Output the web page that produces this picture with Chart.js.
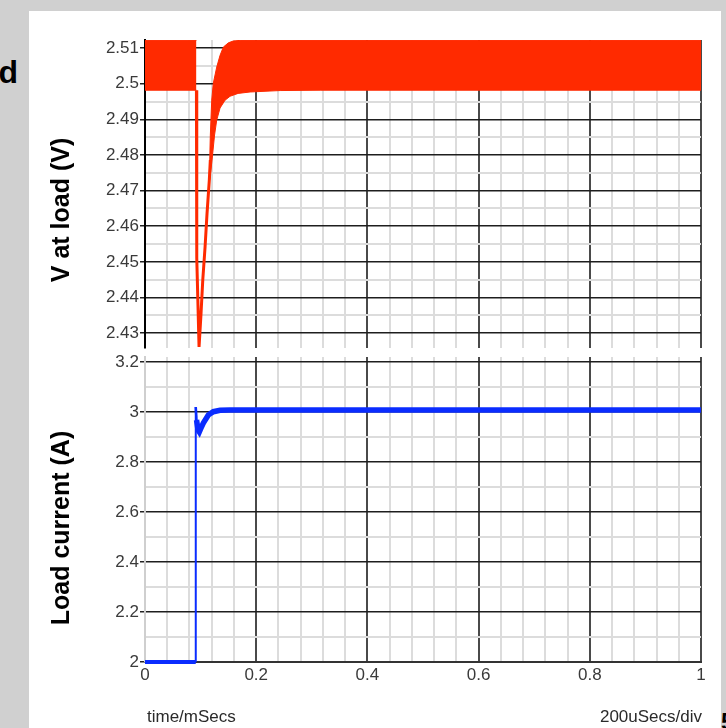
<!DOCTYPE html>
<html>
<head>
<meta charset="utf-8">
<script src="https://cdn.jsdelivr.net/npm/chart.js@4.4.1/dist/chart.umd.min.js"></script>
<style>
  html, body { margin: 0; padding: 0; }
  body {
    width: 726px; height: 728px; position: relative; overflow: hidden;
    background: #d0d0d0;
    font-family: 'Liberation Sans', Arial, sans-serif;
  }
  #panel { position: absolute; left: 29px; top: 11px; width: 692px; height: 717px; background: #fff; }
  canvas { position: absolute; left: 0; }
  #voltChart { top: 0; width: 726px; height: 370px; }
  #ampChart { top: 330px; width: 726px; height: 398px; }
  .axis-title {
    position: absolute; white-space: nowrap; color: #000;
    font-weight: bold; font-size: 25px; line-height: 29px;
    transform: translate(-50%, -50%) rotate(-90deg);
  }
  .foot { position: absolute; top: 707px; font-size: 17px; line-height: 20px; color: #2a2a2a; }
  .side { position: absolute; font-weight: bold; color: #000; white-space: nowrap; }
</style>
</head>
<body>
<div id="panel"></div>
<div class="side" style="right: 708px; top: 54px; font-size: 32px; line-height: 37px;">Load</div>
<div class="side" style="left: 721px; top: 708px; font-size: 24px; line-height: 28px;">5</div>

<canvas id="voltChart" width="726" height="370"></canvas>
<canvas id="ampChart" width="726" height="398"></canvas>

<div class="axis-title" style="left: 60px; top: 210px;">V at load (V)</div>
<div class="axis-title" style="left: 60px; top: 528px;">Load current (A)</div>
<div class="foot" style="left: 147px;">time/mSecs</div>
<div class="foot" style="right: 24px;">200uSecs/div</div>

<script>
// axis labels
const timeTicks = ['0', '0.2', '0.4', '0.6', '0.8', '1'];
const voltTicks = ['2.43', '2.44', '2.45', '2.46', '2.47', '2.48', '2.49', '2.5', '2.51'];
const ampTicks = ['2', '2.2', '2.4', '2.6', '2.8', '3', '3.2'];

// output ripple band before the load step (ms, V)
const preTime = [0, 0.0925];
const preHigh = [2.5122, 2.5122];
const preLow = [2.4982, 2.4982];

// undershoot right after the step
const dipTime = [0.0925, 0.0931, 0.0972, 0.1008, 0.1039, 0.1080, 0.1116, 0.1157, 0.1175];
const dipVolt = [2.4982, 2.4511, 2.4261, 2.4356, 2.4449, 2.4541, 2.4637, 2.4730, 2.4786];

// ripple band while recovering
const postHighTime = [0.1157, 0.1175, 0.1200, 0.1229, 0.1290, 0.1350, 0.1409, 0.1499, 0.1584, 0.1710, 1];
const postHigh = [2.4744, 2.4856, 2.4954, 2.5002, 2.5047, 2.5080, 2.5103, 2.5115, 2.5120, 2.5122, 2.5122];
const postLowTime = [0.1166, 0.1206, 0.1251, 0.1290, 0.1350, 0.1440, 0.1530, 0.1674, 0.1890, 0.2430, 0.3150, 1];
const postLow = [2.4730, 2.4786, 2.4856, 2.4898, 2.4932, 2.4954, 2.4965, 2.4973, 2.4977, 2.4981, 2.4982, 2.4982];

// load current (ms, A)
const ampTime = [0, 0.0913, 0.0913, 0.0927, 0.0954, 0.0977, 0.1008, 0.1049, 0.1139, 0.1229, 0.1350, 0.1530, 1];
const ampValue = [2.0, 2.0, 3.02, 2.968, 2.928, 2.92, 2.936, 2.956, 2.988, 3.0012, 3.0068, 3.008, 3.008];

const RED = '#ff2a00';
const BLUE = '#0a2cff';
const MINOR = '#dcdcdc';

Chart.defaults.font.family = "'Liberation Sans', Arial, sans-serif";
Chart.defaults.font.size = 17;
Chart.defaults.color = '#3a3a3a';

const pts = (xs, ys) => xs.map((x, i) => ({ x: x, y: ys[i] }));

// labelled ticks plus unlabelled minor ticks in between
function withMinor(labels, parts) {
  const vals = labels.map(Number);
  const out = [];
  vals.forEach((v, i) => {
    out.push({ value: v, main: true, text: labels[i] });
    if (i < vals.length - 1) {
      const step = (vals[i + 1] - v) / parts;
      for (let k = 1; k < parts; k++) out.push({ value: v + step * k, main: false, text: '' });
    }
  });
  return out;
}

const isMain = ctx => !!(ctx.tick && ctx.tick.main);

function timeAxis(showLabels) {
  return {
    type: 'linear',
    min: 0,
    max: 1,
    afterBuildTicks: s => { s.ticks = withMinor(timeTicks, 5); },
    afterFit: s => { s.height = showLabels ? 66 : 0; },
    ticks: {
      display: showLabels,
      autoSkip: false,
      maxRotation: 0,
      padding: 3,
      callback: (v, i, ticks) => ticks[i].text
    },
    grid: {
      drawTicks: false,
      color: ctx => isMain(ctx) ? '#4a4a4a' : MINOR,
      lineWidth: 2
    },
    border: { display: showLabels, color: '#333', width: 2 }
  };
}

function valueAxis(labels, min, max, borderColor) {
  return {
    type: 'linear',
    min: min,
    max: max,
    afterBuildTicks: s => { s.ticks = withMinor(labels, 2); },
    afterFit: s => { s.width = 145; },
    ticks: {
      autoSkip: false,
      padding: 1,
      callback: (v, i, ticks) => ticks[i].text
    },
    grid: {
      drawTicks: true,
      tickLength: 5,
      color: ctx => isMain(ctx) ? '#1e1e1e' : MINOR,
      lineWidth: ctx => isMain(ctx) ? 1.5 : 2,
      tickColor: ctx => isMain(ctx) ? '#222' : 'rgba(0,0,0,0)'
    },
    border: { display: true, color: borderColor, width: 2 }
  };
}

const common = {
  responsive: false,
  animation: false,
  events: [],
  plugins: { legend: { display: false }, tooltip: { enabled: false } },
  elements: { point: { radius: 0 }, line: { tension: 0 } }
};

new Chart(document.getElementById('voltChart'), {
  type: 'line',
  data: {
    datasets: [
      { data: pts(preTime, preHigh), borderColor: RED, borderWidth: 1 },
      { data: pts(preTime, preLow), borderColor: RED, borderWidth: 1, backgroundColor: RED, fill: '-1' },
      { data: pts(dipTime, dipVolt), borderColor: RED, borderWidth: 3 },
      { data: pts(postHighTime, postHigh), borderColor: RED, borderWidth: 1 },
      { data: pts(postLowTime, postLow), borderColor: RED, borderWidth: 1, backgroundColor: RED, fill: '-1' }
    ]
  },
  options: Object.assign({}, common, {
    layout: { padding: { left: 0, right: 25, top: 40, bottom: 22 } },
    scales: {
      x: timeAxis(false),
      y: valueAxis(voltTicks, 2.4258, 2.5123, '#000')
    }
  })
});

new Chart(document.getElementById('ampChart'), {
  type: 'line',
  data: {
    datasets: [{
      data: pts(ampTime, ampValue),
      borderColor: BLUE,
      borderWidth: 4,
      clip: 4,
      segment: {
        borderWidth: ctx => ctx.p0DataIndex === 0 ? 4 : ctx.p0DataIndex === 1 ? 2 : ctx.p0DataIndex === 2 ? 2.5 : 5.5
      }
    }]
  },
  options: Object.assign({}, common, {
    layout: { padding: { left: 0, right: 25, top: 27, bottom: 0 } },
    scales: {
      x: timeAxis(true),
      y: valueAxis(ampTicks, 2, 3.22, '#cfcfcf')
    }
  })
});
</script>
</body>
</html>
